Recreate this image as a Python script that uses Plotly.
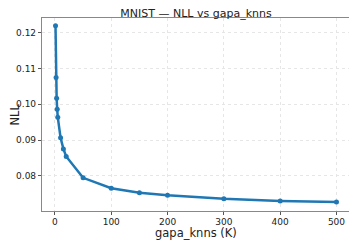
import plotly.graph_objects as go

k_values = [1, 2, 3, 4, 5, 10, 15, 20, 50, 100, 150, 200, 300, 400, 500]
nll_values = [0.1220, 0.1075, 0.1017, 0.0986, 0.0964, 0.0906, 0.0875, 0.0854,
              0.0794, 0.0765, 0.0752, 0.0745, 0.0735, 0.0729, 0.0726]
x_ticks = [0, 100, 200, 300, 400, 500]
y_ticks = [0.08, 0.09, 0.10, 0.11, 0.12]
y_tick_labels = ["0.08", "0.09", "0.10", "0.11", "0.12"]

# the page body adds an 8px offset, so the figure is sized to fit the window
W, H = 349, 235
L, R, T, B = 34, 7, 10, 32
PW, PH = W - L - R, H - T - B

fig = go.Figure()
fig.add_trace(go.Scatter(
    x=k_values, y=nll_values, mode="lines+markers",
    line=dict(color="#1f77b4", width=2.5),
    marker=dict(color="#1f77b4", size=5),
))

fig.update_layout(
    width=W, height=H,
    margin=dict(l=L, r=R, t=T, b=B, autoexpand=False),
    paper_bgcolor="white", plot_bgcolor="white",
    showlegend=False,
    font=dict(family="DejaVu Sans", color="#222"),
    title=dict(text="MNIST — NLL vs gapa_knns", x=188 / W, xanchor="center",
               y=1 - 5.5 / H, yanchor="middle", font=dict(size=11, color="#222")),
    annotations=[
        dict(text="gapa_knns (K)", xref="paper", yref="paper",
             x=0.5, y=-21.5 / PH, xanchor="center", yanchor="middle",
             borderpad=0, showarrow=False, font=dict(size=11.5, color="#222")),
        dict(text="NLL", xref="paper", yref="paper", textangle=-90,
             x=-28 / PW, y=0.5, xanchor="center", yanchor="middle",
             borderpad=0, showarrow=False, font=dict(size=11.5, color="#222")),
    ],
)
fig.update_xaxes(
    range=[-23, 524], tickvals=x_ticks, ticks="outside", ticklen=3,
    tickcolor="#555", tickfont=dict(size=9), automargin=False,
    ticklabelstandoff=-1,
    showline=True, mirror=True, linecolor="#888", linewidth=1.2,
    showgrid=True, gridcolor="#e6e6e6", griddash="dot", zeroline=False,
)
fig.update_yaxes(
    range=[0.0701, 0.1242], tickvals=y_ticks, ticktext=y_tick_labels,
    ticks="outside", ticklen=3, tickcolor="#555", tickfont=dict(size=9),
    automargin=False,
    showline=True, mirror=True, linecolor="#888", linewidth=1.2,
    showgrid=True, gridcolor="#e6e6e6", griddash="dot", zeroline=False,
)

fig.write_html("out.html")
